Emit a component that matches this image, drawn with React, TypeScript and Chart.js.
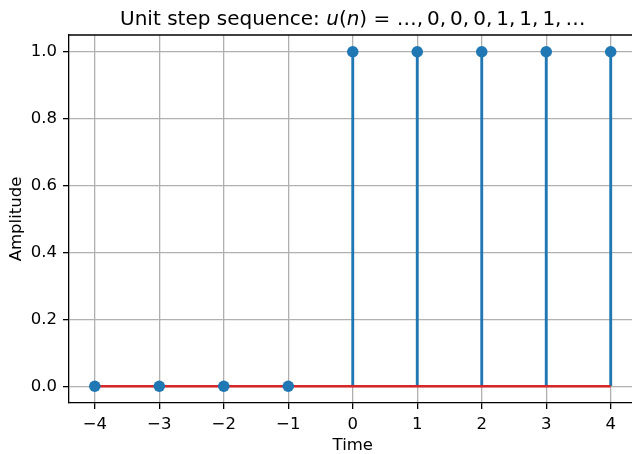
import { useEffect, useRef } from "react";
import { Chart, registerables } from "chart.js";

Chart.register(...registerables);

const timeSteps = [-4, -3, -2, -1, 0, 1, 2, 3, 4];
const amplitudes = [0, 0, 0, 0, 1, 1, 1, 1, 1];
const xTicks = [-4, -3, -2, -1, 0, 1, 2, 3, 4];
const yTicks = [0, 0.2, 0.4, 0.6, 0.8, 1.0];
const titleParts: { text: string; italic: boolean }[] = [
  { text: "Unit step sequence: ", italic: false },
  { text: "u", italic: true },
  { text: "(", italic: false },
  { text: "n", italic: true },
  { text: ") = \u2026,\u2009" + "0,\u20090,\u20090,\u20091,\u20091,\u20091,\u2009\u2026", italic: false },
];
const xLabel = "Time";
const yLabel = "Amplitude";

const FONT = "'DejaVu Sans', 'Liberation Sans', sans-serif";
const BLUE = "#1f77b4";
const RED = "#d62728";

export default function App() {
  const ref = useRef<HTMLCanvasElement | null>(null);

  useEffect(() => {
    document.body.style.margin = "0";
    const canvas = ref.current;
    if (!canvas) return;

    const textPlugin = {
      id: "textPlugin",
      afterDraw(chart: any) {
        const ctx = chart.ctx as CanvasRenderingContext2D;
        const area = chart.chartArea;
        const xs = chart.scales.x;
        const cx = xs.getPixelForValue(0);
        ctx.save();
        // top spine
        ctx.strokeStyle = "#000";
        ctx.lineWidth = 1.3;
        ctx.beginPath();
        ctx.moveTo(area.left, area.top);
        ctx.lineTo(area.right, area.top);
        ctx.stroke();

        // title
        ctx.fillStyle = "#000";
        ctx.textBaseline = "alphabetic";
        ctx.textAlign = "left";
        const size = 20;
        let total = 0;
        const widths = titleParts.map((p) => {
          ctx.font = `${p.italic ? "italic " : ""}${size}px ${FONT}`;
          const w = ctx.measureText(p.text).width;
          total += w;
          return w;
        });
        let x = cx - total / 2;
        titleParts.forEach((p, i) => {
          ctx.font = `${p.italic ? "italic " : ""}${size}px ${FONT}`;
          ctx.fillText(p.text, x, 25);
          x += widths[i];
        });

        // x label
        ctx.font = `16.5px ${FONT}`;
        ctx.textAlign = "center";
        ctx.fillText(xLabel, cx, 450);

        // y label
        ctx.translate(21, (area.top + area.bottom) / 2);
        ctx.rotate(-Math.PI / 2);
        ctx.fillText(yLabel, 0, 0);
        ctx.restore();
      },
    };

    const chart = new Chart(canvas, {
      type: "scatter",
      data: {
        datasets: [
          {
            type: "scatter",
            data: timeSteps.map((t, i) => ({ x: t, y: amplitudes[i] })),
            pointRadius: 5.8,
            pointHoverRadius: 5.8,
            backgroundColor: BLUE,
            borderWidth: 0,
            order: 1,
          } as any,
          {
            type: "line",
            data: [
              { x: timeSteps[0], y: 0 },
              { x: timeSteps[timeSteps.length - 1], y: 0 },
            ],
            borderColor: RED,
            borderWidth: 2.3,
            pointRadius: 0,
            fill: false,
            order: 2,
          } as any,
          {
            type: "bar",
            data: timeSteps.map((t, i) => ({ x: t, y: amplitudes[i] })),
            backgroundColor: BLUE,
            borderWidth: 0,
            barThickness: 2.2,
            grouped: false,
            order: 3,
          } as any,
        ],
      },
      options: {
        responsive: false,
        animation: false,
        devicePixelRatio: 1,
        layout: { autoPadding: false, padding: { top: 35, left: 0, right: 0, bottom: 0 } },
        plugins: {
          legend: { display: false },
          tooltip: { enabled: false },
          title: { display: false },
        },
        scales: {
          x: {
            type: "linear",
            min: -4.4,
            max: 4.33,
            offset: false,
            grid: {
              offset: false,
              color: "#b0b0b0",
              lineWidth: 1.3,
              tickColor: "#000",
              tickLength: 6,
              tickWidth: 1.3,
            },
            border: { color: "#000", width: 1.3 },
            ticks: {
              color: "#000",
              font: { family: FONT, size: 16.5 },
              padding: 6,
              maxRotation: 0,
              autoSkip: false,
              callback: (v: any) => (Number(v) < 0 ? "\u2212" + Math.abs(Number(v)) : String(v)),
            },
            afterBuildTicks: (scale: any) => {
              scale.ticks = xTicks.map((v) => ({ value: v }));
            },
            afterFit: (scale: any) => {
              scale.height = 51;
              scale.paddingLeft = 0;
              scale.paddingRight = 0;
            },
          },
          y: {
            type: "linear",
            min: -0.05,
            max: 1.05,
            grid: {
              color: "#b0b0b0",
              lineWidth: 1.3,
              tickColor: "#000",
              tickLength: 6,
              tickWidth: 1.3,
            },
            border: { color: "#000", width: 1.3 },
            ticks: {
              color: "#000",
              font: { family: FONT, size: 16.5 },
              padding: 6,
              autoSkip: false,
              callback: (v: any) => Number(v).toFixed(1),
            },
            afterBuildTicks: (scale: any) => {
              scale.ticks = yTicks.map((v) => ({ value: v }));
            },
            afterFit: (scale: any) => {
              scale.width = 69;
              scale.paddingTop = 0;
              scale.paddingBottom = 0;
            },
          },
        },
      } as any,
      plugins: [textPlugin],
    });

    return () => chart.destroy();
  }, []);

  return (
    <canvas
      ref={ref}
      width={632}
      height={454}
      style={{ display: "block", width: 632, height: 454 }}
    />
  );
}
